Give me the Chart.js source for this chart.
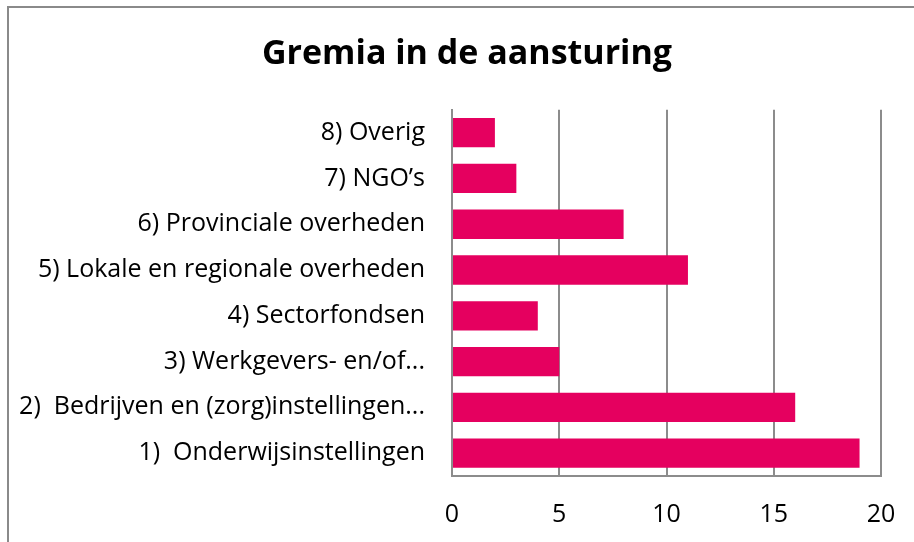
<!DOCTYPE html>
<html>
<head>
<meta charset="utf-8">
<script src="https://cdn.jsdelivr.net/npm/chart.js@4"></script>
<style>
  html, body { margin: 0; padding: 0; background: #fff; overflow: hidden; }
  #wrap { position: relative; width: 914px; height: 542px; }
  #frame { position: absolute; left: 7px; top: 6px; width: 1000px; height: 700px; border: 2px solid #8a8a8a; box-sizing: border-box; }
  canvas { position: absolute; left: 0; top: 0; }
</style>
</head>
<body>
<div id="wrap">
  <div id="frame"></div>
  <canvas id="chart" width="914" height="542"></canvas>
</div>
<script>
  const categories = [
    "8) Overig",
    "7) NGO\u2019s",
    "6) Provinciale overheden",
    "5) Lokale en regionale overheden",
    "4) Sectorfondsen",
    "3) Werkgevers- en/of...",
    "2)  Bedrijven en (zorg)instellingen...",
    "1)  Onderwijsinstellingen"
  ];
  const values = [2, 3, 8, 11, 4, 5, 16, 19];
  const barColor = "#e5005f";
  const gridColor = "#8c8c8c";
  const fontFamily = "'Open Sans', sans-serif";

  // title is centred on the frame, not on the padded box
  const shiftTitle = {
    id: "shiftTitle",
    afterLayout(chart) {
      if (chart.titleBlock) chart.titleBlock.left = 53;
    }
  };

  const ctx = document.getElementById("chart").getContext("2d");
  const chart = new Chart(ctx, {
    type: "bar",
    data: {
      labels: categories,
      datasets: [{
        data: values,
        backgroundColor: barColor,
        borderWidth: 0,
        barPercentage: 0.64,
        categoryPercentage: 1
      }]
    },
    plugins: [shiftTitle],
    options: {
      indexAxis: "y",
      responsive: false,
      animation: false,
      layout: { padding: { left: 7, right: 33, top: 0, bottom: 0 } },
      plugins: {
        legend: { display: false },
        tooltip: { enabled: false },
        title: {
          display: true,
          text: "Gremia in de aansturing",
          color: "#000",
          font: { family: fontFamily, size: 34, weight: "bold" },
          padding: { top: 34, bottom: 35 }
        }
      },
      scales: {
        x: {
          min: 0,
          max: 20,
          ticks: { stepSize: 5, color: "#000", padding: 24, font: { family: fontFamily, size: 25 } },
          grid: { color: gridColor, lineWidth: 2, drawTicks: false },
          border: { color: gridColor, width: 2 },
          afterFit: s => { s.height = 66; s.paddingLeft = 0; s.paddingRight = 0; }
        },
        y: {
          ticks: { color: "#000", padding: 27, font: { family: fontFamily, size: 25 } },
          grid: { display: false, drawTicks: false },
          border: { color: gridColor, width: 2 },
          afterFit: s => { s.width = 445; }
        }
      }
    }
  });
</script>
</body>
</html>
